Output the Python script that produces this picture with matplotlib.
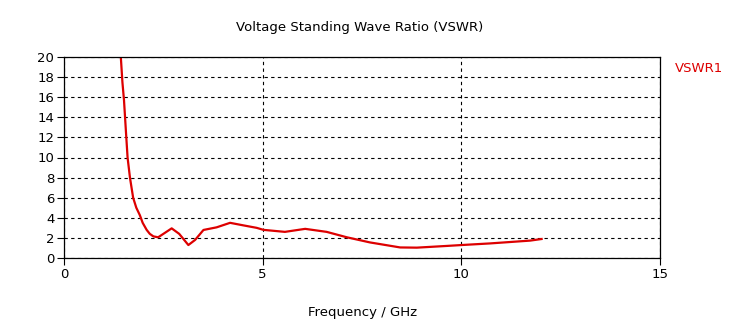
import matplotlib
matplotlib.use("Agg")
import matplotlib.pyplot as plt

# values
freq = [1.43, 1.47, 1.51, 1.56, 1.60, 1.66, 1.74, 1.82, 1.91, 1.98, 2.08, 2.16,
        2.25, 2.37, 2.50, 2.71, 2.90, 3.13, 3.30, 3.51, 3.84, 4.18, 4.51, 4.85,
        5.02, 5.56, 6.07, 6.61, 7.12, 7.70, 8.46, 8.88, 9.63, 10.05, 10.72,
        11.73, 12.02]
vswr = [20.0, 17.5, 15.7, 12.5, 10.0, 8.0, 6.0, 5.0, 4.25, 3.5, 2.8, 2.4,
        2.15, 2.06, 2.4, 2.95, 2.4, 1.29, 1.8, 2.79, 3.05, 3.5, 3.25, 3.0,
        2.8, 2.6, 2.9, 2.6, 2.06, 1.55, 1.05, 1.03, 1.2, 1.3, 1.45,
        1.73, 1.89]
xticks = [0, 5, 10, 15]
yticks = list(range(0, 21, 2))

fig = plt.figure(figsize=(7.42, 3.28), dpi=100)
ax = fig.add_axes([64/742, 1-258/328, (660-64)/742, (258-57)/328])

ax.plot(freq, vswr, color="#dd0000", lw=1.6, clip_on=True)

ax.set_xlim(0, 15)
ax.set_ylim(0, 20)
ax.set_xticks(xticks)
ax.set_yticks(yticks)
ax.tick_params(direction="out", length=5, width=0.8, labelsize=9.5, pad=2)
ax.grid(True, color="black", linestyle=(0, (3, 3)), linewidth=0.8)
for s in ax.spines.values():
    s.set_linewidth(0.9)

fig.text(0.485, 0.917, "Voltage Standing Wave Ratio (VSWR)", ha="center", va="center", fontsize=9.5)
fig.text(0.488, 0.048, "Frequency / GHz", ha="center", va="center", fontsize=9.5)
fig.text(675/742, 1-68/328, "VSWR1", color="#dd0000", ha="left", va="center", fontsize=9.5)

fig.savefig("out.png", dpi=100)
